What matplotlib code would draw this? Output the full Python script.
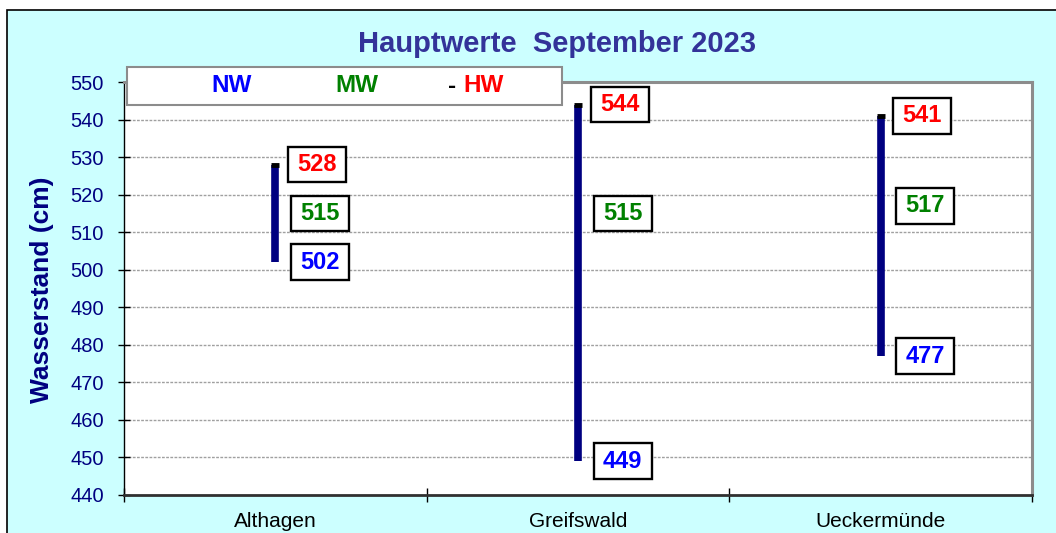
import matplotlib
matplotlib.use("Agg")
import matplotlib.pyplot as plt
from matplotlib.patches import Rectangle
from matplotlib.path import Path

plt.rcParams['font.family'] = ['Liberation Sans', 'DejaVu Sans']

stations = ["Althagen", "Greifswald", "Ueckermünde"]
nw = [502, 449, 477]
mw = [515, 515, 517]
hw = [528, 544, 541]
title = "Hauptwerte  September 2023"
ylabel = "Wasserstand (cm)"

W, H = 1056, 533
fig = plt.figure(figsize=(W / 100, H / 100), dpi=100, facecolor='white')

def fx(x):
    return x / W

def fy(y):
    return 1 - y / H

def label_box(x0, y0, width, height, mutation_size):
    px = 0.40 * mutation_size
    py = 0.27 * mutation_size
    x1, y1 = x0 - px, y0 - py
    x2, y2 = x0 + width + px, y0 + height + py
    return Path([(x1, y1), (x2, y1), (x2, y2), (x1, y2), (x1, y1)], closed=True)

# chart background box
fig.patches.append(Rectangle((fx(7), fy(540)), fx(1060) - fx(7), fy(10) - fy(540),
                             transform=fig.transFigure, facecolor='#CCFFFF',
                             edgecolor='black', linewidth=1.2, zorder=-10))

left, right, top, bottom = 124, 1032, 82, 495
ax = fig.add_axes([fx(left), fy(bottom), fx(right) - fx(left), fy(top) - fy(bottom)])
ax.set_zorder(1)
ax.set_facecolor('white')

xs = [i + 0.5 for i in range(len(stations))]
ax.set_xlim(0, len(stations))
ax.set_ylim(440, 550)
ax.set_yticks(range(440, 551, 10))
ax.set_xticks(range(0, len(stations) + 1))
ax.set_xticklabels([])
ax.set_xticks(xs, minor=True)
ax.set_xticklabels(stations, minor=True, fontsize=15, color='black')
ax.tick_params(axis='x', which='minor', length=0, pad=12)
ax.tick_params(axis='x', which='major', direction='inout', length=10, width=1, color='black')
ax.tick_params(axis='y', direction='inout', length=9, width=1, color='black',
               labelsize=14.5, labelcolor='#000080', pad=10)

for yv in range(450, 550, 10):
    ax.axhline(yv, color='#a0a0a0', linewidth=1, linestyle=(0, (2, 1)), zorder=1)

for s in ['top', 'right']:
    ax.spines[s].set_color('#8c8c8c')
    ax.spines[s].set_linewidth(2.2)
ax.spines['left'].set_color('black')
ax.spines['left'].set_linewidth(1)
ax.spines['bottom'].set_color('#303030')
ax.spines['bottom'].set_linewidth(2)

ax.vlines(xs, nw, hw, color='#000080', linewidth=5.5, zorder=3)
ax.plot(xs, hw, linestyle='none', marker='_', markersize=6, markeredgewidth=3.5,
        color='black', zorder=4)

box = dict(boxstyle=label_box, facecolor='white', edgecolor='black', linewidth=1.7)
for x, a, m, h in zip(xs, nw, mw, hw):
    ax.annotate(str(h), (x, h), xytext=(22, 0), textcoords='offset pixels', ha='left',
                va='center', fontsize=17, fontweight='bold', color='#FF0000', bbox=box, zorder=5)
    ax.annotate(str(m), (x, m), xytext=(25, 0), textcoords='offset pixels', ha='left',
                va='center', fontsize=17, fontweight='bold', color='#008000', bbox=box, zorder=5)
    ax.annotate(str(a), (x, a), xytext=(25, 0), textcoords='offset pixels', ha='left',
                va='center', fontsize=17, fontweight='bold', color='#0000FF', bbox=box, zorder=5)

# legend box
fig.patches.append(Rectangle((fx(127), fy(105)), fx(562) - fx(127), fy(67) - fy(105),
                             transform=fig.transFigure, facecolor='white',
                             edgecolor='#8c8c8c', linewidth=1.5, zorder=5))
fig.text(fx(232), fy(86), "NW", color='#0000FF', fontsize=17.5, fontweight='bold',
         ha='center', va='center', zorder=6)
fig.text(fx(357), fy(86), "MW", color='#008000', fontsize=17.5, fontweight='bold',
         ha='center', va='center', zorder=6)
fig.text(fx(452), fy(86), "-", color='black', fontsize=17.5, fontweight='bold',
         ha='center', va='center', zorder=6)
fig.text(fx(484), fy(86), "HW", color='#FF0000', fontsize=17.5, fontweight='bold',
         ha='center', va='center', zorder=6)

fig.text(fx(557), fy(44), title, color='#333399', fontsize=21, fontweight='bold',
         ha='center', va='center')
fig.text(fx(42), fy(290), ylabel, color='#000080', fontsize=19, fontweight='bold',
         ha='center', va='center', rotation=90)

fig.savefig('out.png', dpi=100, facecolor='white')
